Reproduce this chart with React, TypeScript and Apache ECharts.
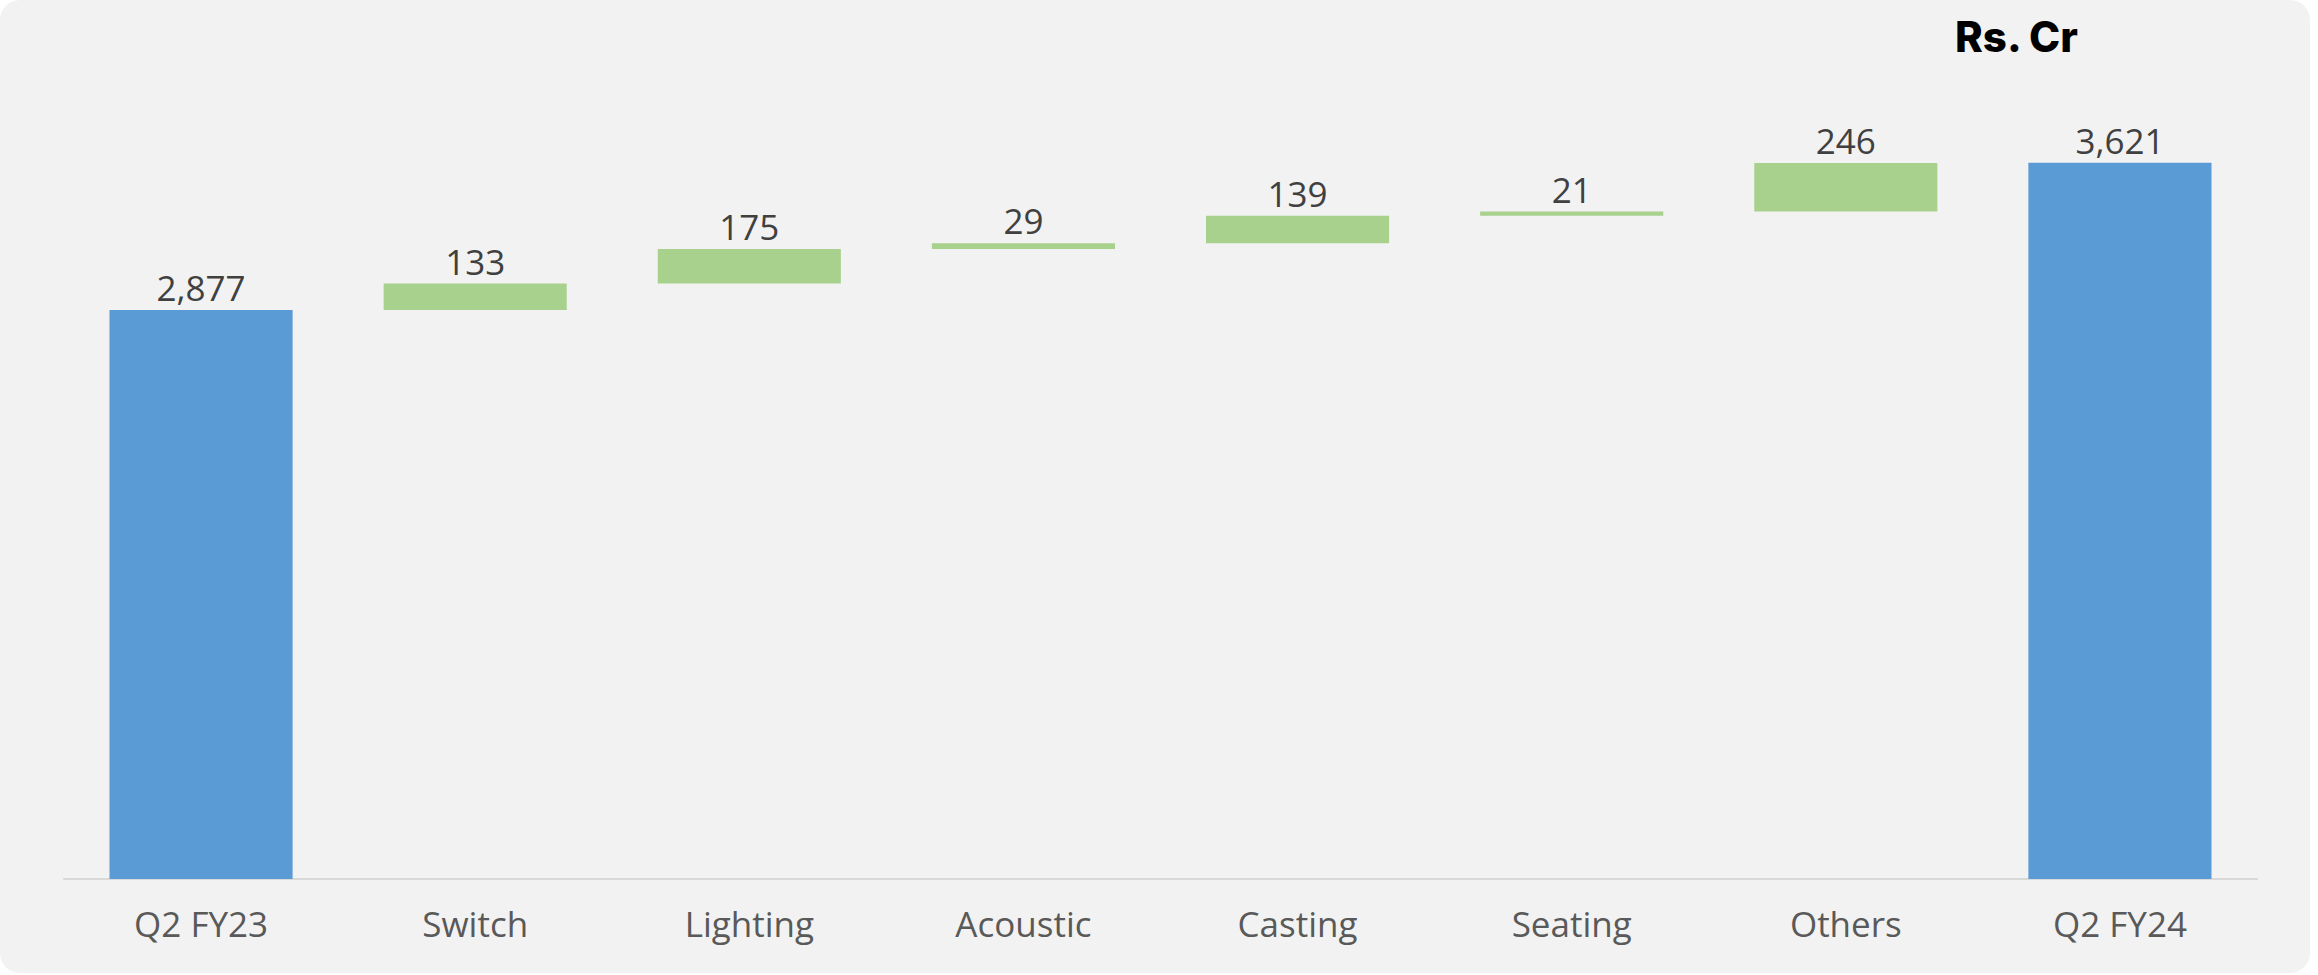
import React, { useEffect, useRef } from "react";
import * as echarts from "echarts";

const categories = ["Q2 FY23", "Switch", "Lighting", "Acoustic", "Casting", "Seating", "Others", "Q2 FY24"];
const values = [2877, 133, 175, 29, 139, 21, 246, 3621];
const isTotal = [true, false, false, false, false, false, false, true];
const unitLabel = "Rs. Cr";

const TOTAL_COLOR = "#5B9BD5";
const STEP_COLOR = "#A9D18E";

export default function App() {
  const ref = useRef<HTMLDivElement>(null);

  useEffect(() => {
    document.body.style.margin = "0";
    const chart = echarts.init(ref.current!, null, { renderer: "svg" });

    let running = 0;
    const base = values.map((v, i) => {
      if (isTotal[i]) {
        running = v;
        return 0;
      }
      const b = running;
      running += v;
      return b;
    });

    chart.setOption({
      animation: false,
      backgroundColor: "transparent",
      title: {
        text: unitLabel,
        left: 1950,
        top: 10,
        textStyle: { fontFamily: "Inter", fontWeight: 800, fontSize: 42, color: "#000000" },
      },
      grid: { left: 64, right: 61, top: 87.8, bottom: 96, containLabel: false },
      xAxis: {
        type: "category",
        data: categories,
        axisLine: { show: true, lineStyle: { color: "#d9d9d9", width: 2 } },
        axisTick: { show: false },
        axisLabel: { fontFamily: "Open Sans", fontSize: 35, color: "#595959", margin: 27 },
      },
      yAxis: {
        type: "value",
        min: 0,
        max: 4000,
        show: false,
        splitLine: { show: false },
      },
      series: [
        {
          name: "base",
          type: "bar",
          stack: "wf",
          data: base,
          itemStyle: { color: "transparent" },
          barCategoryGap: "33.2%",
          silent: true,
        },
        {
          name: "value",
          type: "bar",
          stack: "wf",
          barCategoryGap: "33.2%",
          data: values.map((v, i) => ({
            value: v,
            itemStyle: { color: isTotal[i] ? TOTAL_COLOR : STEP_COLOR },
          })),
          label: {
            show: true,
            position: "top",
            distance: 5,
            fontFamily: "Open Sans",
            fontSize: 35,
            color: "#404040",
            formatter: (p: any) => Number(p.value).toLocaleString("en-US"),
          },
        },
      ],
    });

    return () => chart.dispose();
  }, []);

  return (
    <div style={{ position: "fixed", left: 0, top: 0, width: 2318, height: 975, background: "#ffffff" }}>
      <div
        style={{
          position: "absolute",
          left: 0,
          top: 0,
          width: 2310,
          height: 973,
          borderRadius: 20,
          background: "#f2f2f2",
        }}
      />
      <div ref={ref} style={{ position: "absolute", left: 0, top: 0, width: 2318, height: 975 }} />
    </div>
  );
}
